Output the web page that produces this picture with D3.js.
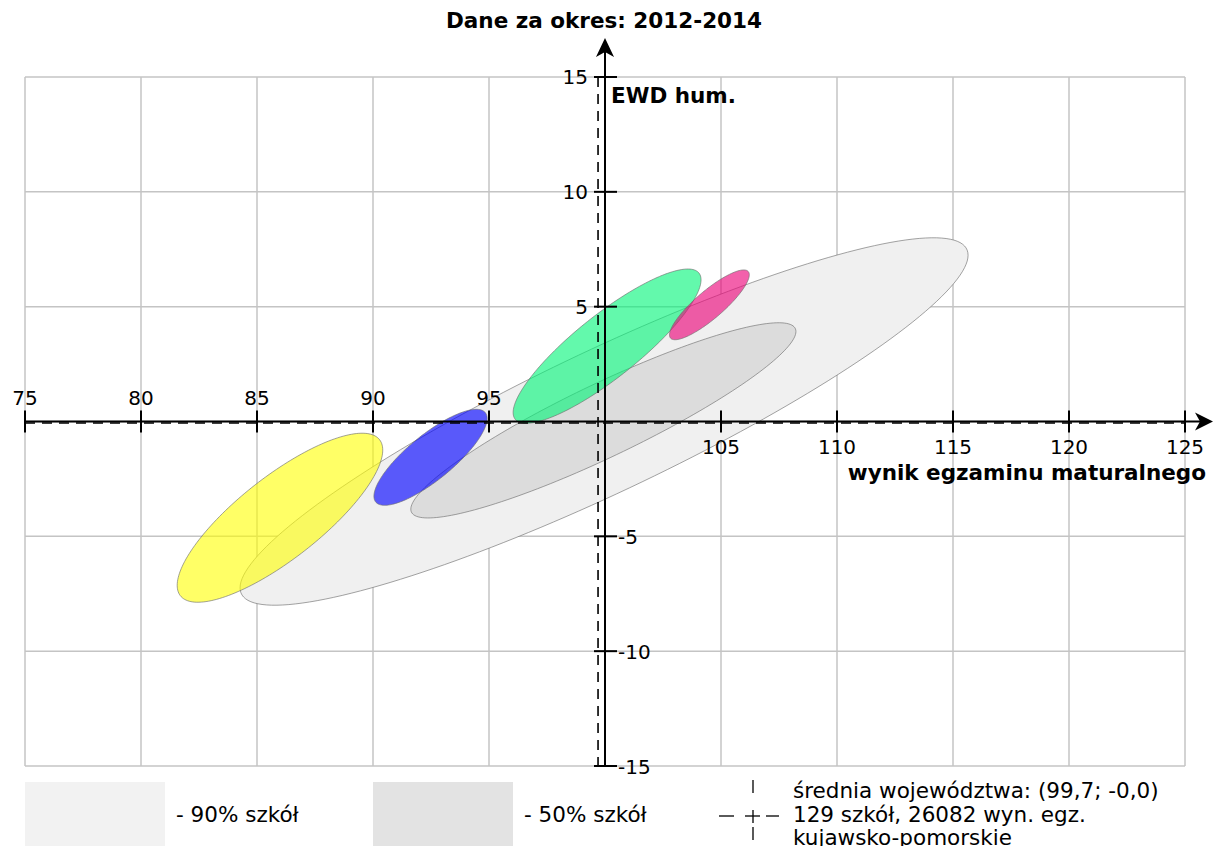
<!DOCTYPE html>
<html><head><meta charset="utf-8">
<script src="https://cdn.jsdelivr.net/npm/d3@7"></script>
<style>
html,body{margin:0;padding:0;background:#fff;}
svg{display:block;font-family:"DejaVu Sans",sans-serif;}
</style></head>
<body><svg id="c" width="1213" height="846"></svg>
<script>
// ---- data ----
const titleText = "Dane za okres: 2012-2014";
const xTicks = [75, 80, 85, 90, 95, 100, 105, 110, 115, 120, 125];
const yTicks = [-15, -10, -5, 0, 5, 10, 15];
const xLabel = "wynik egzaminu maturalnego";
const yLabel = "EWD hum.";
const meanX = 99.7, meanY = -0.0;
// ellipses: centre, spread along x and y, correlation
const ellNames = ["90% szkół", "50% szkół", "yellow", "blue", "green", "pink"];
const ellCx = [99.96, 99.93, 85.99, 92.48, 100.09, 104.50];
const ellCy = [0.00, 0.05, -4.19, -1.56, 3.28, 5.08];
const ellSx = [15.69, 8.30, 4.43, 2.44, 4.05, 1.72];
const ellSy = [8.00, 4.25, 3.68, 2.09, 3.36, 1.52];
const ellR  = [0.905, 0.91, 0.80, 0.81, 0.86, 0.86];
const ellFill = ["#f0f0f0", "#dcdcdc", "#ffff00", "#0000ff", "#00f577", "#eb0078"];
const ellOpacity = [1, 1, 0.6, 0.63, 0.61, 0.62];
const legendLines = ["średnia województwa: (99,7; -0,0)", "129 szkół, 26082 wyn. egz.", "kujawsko-pomorskie"];

// ---- chart ----
const svg = d3.select("#c");
const x = d3.scaleLinear().domain([75, 125]).range([25, 1185]);
const y = d3.scaleLinear().domain([-15, 15]).range([766, 77]);
const x0 = x(100), y0 = y(0);

// grid
const g = svg.append("g");
g.selectAll(".gx").data(xTicks).enter().append("line")
  .attr("x1", d => x(d)).attr("x2", d => x(d)).attr("y1", y(15)).attr("y2", y(-15))
  .attr("stroke", "#c4c4c4").attr("stroke-width", 1.5);
g.selectAll(".gy").data(yTicks).enter().append("line")
  .attr("x1", x(75)).attr("x2", x(125)).attr("y1", d => y(d)).attr("y2", d => y(d))
  .attr("stroke", "#c4c4c4").attr("stroke-width", 1.5);

// ellipses
function ellipsePts(i) {
  const pts = [];
  const s = Math.sqrt(1 - ellR[i] * ellR[i]);
  for (let k = 0; k < 180; k++) {
    const t = k / 180 * 2 * Math.PI;
    pts.push([ellCx[i] + ellSx[i] * Math.cos(t), ellCy[i] + ellSy[i] * (ellR[i] * Math.cos(t) + s * Math.sin(t))]);
  }
  return pts;
}
const line = d3.line().x(d => x(d[0])).y(d => y(d[1])).curve(d3.curveLinearClosed);
svg.append("g").selectAll("path").data(ellNames.map((n, i) => i)).enter().append("path")
  .attr("d", i => line(ellipsePts(i)))
  .attr("fill", i => ellFill[i]).attr("fill-opacity", i => ellOpacity[i])
  .attr("stroke", "#6e6e6e").attr("stroke-opacity", 0.8).attr("stroke-width", 0.8);

// mean dashed lines
svg.append("line").attr("x1", x(75)).attr("x2", x(125)).attr("y1", y(meanY) + 1.5).attr("y2", y(meanY) + 1.5)
  .attr("stroke", "#000").attr("stroke-width", 1.6).attr("stroke-dasharray", "10,7");
svg.append("line").attr("x1", x(meanX)).attr("x2", x(meanX)).attr("y1", y(15)).attr("y2", y(-15))
  .attr("stroke", "#000").attr("stroke-width", 1.6).attr("stroke-dasharray", "10,7");

// axes lines
svg.append("line").attr("x1", x(75)).attr("x2", 1205).attr("y1", y0).attr("y2", y0)
  .attr("stroke", "#000").attr("stroke-width", 2);
svg.append("line").attr("x1", x0).attr("x2", x0).attr("y1", y(-15)).attr("y2", 48)
  .attr("stroke", "#000").attr("stroke-width", 2);
// arrow heads
svg.append("path").attr("d", `M${1213},${y0} L${1195},${y0 - 9} L${1200},${y0} L${1195},${y0 + 9} Z`).attr("fill", "#000");
svg.append("path").attr("d", `M${x0},38 L${x0 - 9},${57} L${x0},${52} L${x0 + 9},${57} Z`).attr("fill", "#000");

// ticks
svg.selectAll(".tx").data(xTicks.filter(d => d !== 100)).enter().append("line")
  .attr("x1", d => x(d)).attr("x2", d => x(d)).attr("y1", y0 - 11).attr("y2", y0 + 11)
  .attr("stroke", "#000").attr("stroke-width", 2);
svg.selectAll(".ty").data(yTicks.filter(d => d !== 0)).enter().append("line")
  .attr("x1", x0 - 11).attr("x2", x0 + 12).attr("y1", d => y(d)).attr("y2", d => y(d))
  .attr("stroke", "#000").attr("stroke-width", 2);

// tick labels
svg.selectAll(".lx").data(xTicks.filter(d => d !== 100)).enter().append("text")
  .attr("x", d => x(d)).attr("y", d => d < 100 ? y0 - 17 : y0 + 32)
  .attr("text-anchor", "middle").attr("font-size", 20).text(d => d);
svg.selectAll(".ly").data(yTicks.filter(d => d !== 0)).enter().append("text")
  .attr("x", d => d > 0 ? x0 - 17 : x0 + 13).attr("y", d => y(d) + 7 + (d < 0 ? 1 : 0))
  .attr("text-anchor", d => d > 0 ? "end" : "start").attr("font-size", 20).text(d => d);

// titles
svg.append("text").attr("x", 604).attr("y", 28).attr("text-anchor", "middle")
  .attr("font-weight", "bold").attr("font-size", 21.5).text(titleText);
svg.append("text").attr("x", x0 + 6).attr("y", 103).attr("font-weight", "bold").attr("font-size", 21.5).text(yLabel);
svg.append("text").attr("x", 1206).attr("y", 480).attr("text-anchor", "end")
  .attr("font-weight", "bold").attr("font-size", 21.5).text(xLabel);

// legend
svg.append("rect").attr("x", 25).attr("y", 782).attr("width", 140).attr("height", 64).attr("fill", "#f2f2f2");
svg.append("text").attr("x", 176).attr("y", 822).attr("font-size", 21.5).text("- " + ellNames[0]);
svg.append("rect").attr("x", 373).attr("y", 782).attr("width", 140).attr("height", 64).attr("fill", "#e3e3e3");
svg.append("text").attr("x", 524).attr("y", 822).attr("font-size", 21.5).text("- " + ellNames[1]);
const lg = svg.append("g").attr("stroke", "#000").attr("stroke-width", 1.3);
const cx = 753, cy = 816;
[[cx, 780, cx, 793], [cx, 827, cx, 840], [719, cy, 734, cy], [766, cy, 779, cy], [745, cy, 760, cy], [cx, 810, cx, 823]]
  .forEach(s => lg.append("line").attr("x1", s[0]).attr("y1", s[1]).attr("x2", s[2]).attr("y2", s[3]));
svg.selectAll(".lt").data(legendLines).enter().append("text")
  .attr("x", 793).attr("y", (d, i) => 798 + i * 23.5).attr("font-size", 21.5).text(d => d);
</script></body></html>
